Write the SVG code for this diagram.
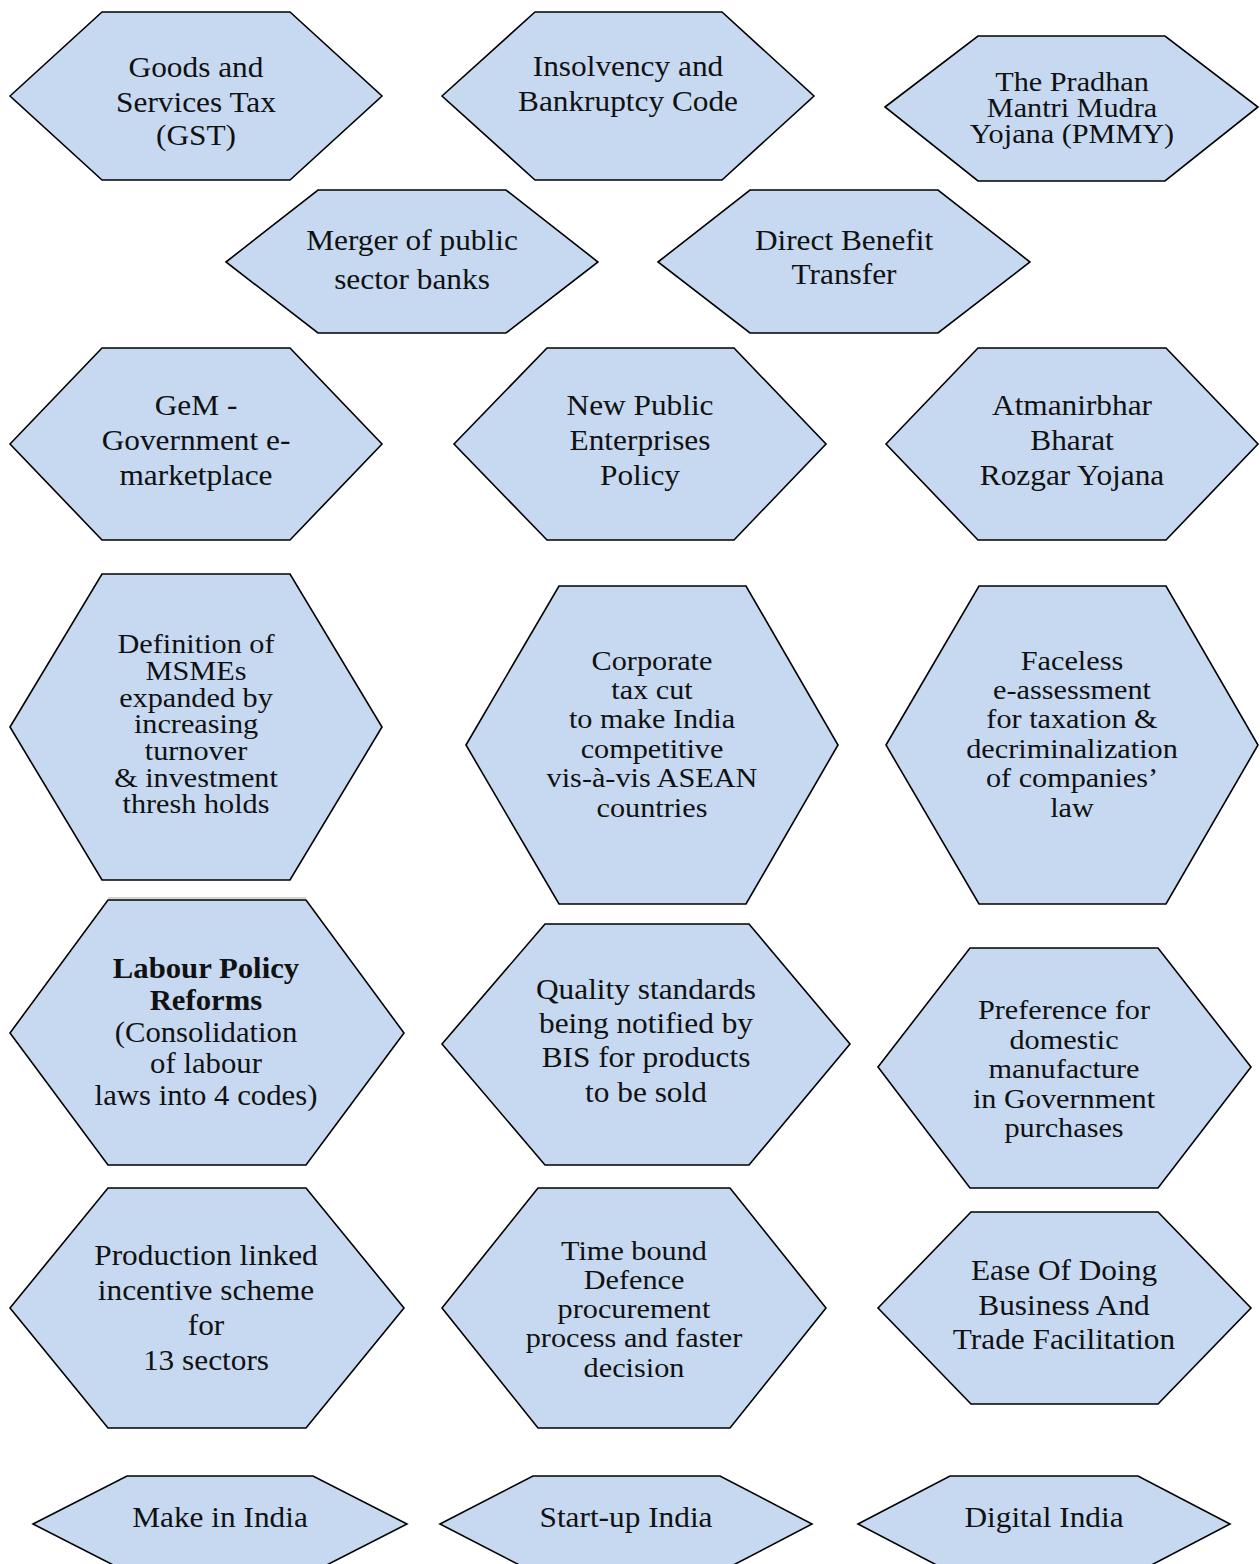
<svg xmlns="http://www.w3.org/2000/svg" width="1260" height="1564" viewBox="0 0 1260 1564">
<style>
.hex{fill:#C6D9F1;stroke:#000;stroke-width:1.6;stroke-linejoin:miter}
.t{font-family:"Liberation Serif","Times New Roman",serif;font-size:29px;fill:#111;text-anchor:middle}
.s{font-size:27.5px}
.b{font-weight:bold}
</style>
<rect width="1260" height="1564" fill="#fff"/>
<g id="connectors"/>
<g id="n1"><polygon class="hex" points="10,96 102,12 290,12 382,96 290,180 102,180"/>
<text class="t" transform="matrix(1.08 0 0 1 196 0)"><tspan x="0" y="77">Goods and</tspan><tspan x="0" y="112">Services Tax</tspan><tspan x="0" y="145">(GST)</tspan></text></g>
<g id="n2"><polygon class="hex" points="442,96 535,12 722,12 814,96 722,180 535,180"/>
<text class="t" transform="matrix(1.08 0 0 1 628 0)"><tspan x="0" y="76">Insolvency and</tspan><tspan x="0" y="111">Bankruptcy Code</tspan></text></g>
<g id="n3"><polygon class="hex" points="885,107 978,36 1165,36 1258,107 1165,181 978,181"/>
<text class="t s" transform="matrix(1.1 0 0 1 1072 0)"><tspan x="0" y="91">The Pradhan</tspan><tspan x="0" y="117">Mantri Mudra</tspan><tspan x="0" y="143">Yojana (PMMY)</tspan></text></g>
<g id="n4"><polygon class="hex" points="226,262 318,190 506,190 598,262 506,333 318,333"/>
<text class="t" transform="matrix(1.08 0 0 1 412 0)"><tspan x="0" y="250">Merger of public</tspan><tspan x="0" y="289">sector banks</tspan></text></g>
<g id="n5"><polygon class="hex" points="658,262 750,190 938,190 1030,262 938,333 750,333"/>
<text class="t" transform="matrix(1.08 0 0 1 844 0)"><tspan x="0" y="250">Direct Benefit</tspan><tspan x="0" y="284">Transfer</tspan></text></g>
<g id="n6"><polygon class="hex" points="10,444 102,348 290,348 382,444 290,540 102,540"/>
<text class="t" transform="matrix(1.08 0 0 1 196 0)"><tspan x="0" y="415">GeM -</tspan><tspan x="0" y="450">Government e-</tspan><tspan x="0" y="485">marketplace</tspan></text></g>
<g id="n7"><polygon class="hex" points="454,444 547,348 734,348 826,444 734,540 547,540"/>
<text class="t" transform="matrix(1.08 0 0 1 640 0)"><tspan x="0" y="415">New Public</tspan><tspan x="0" y="450">Enterprises</tspan><tspan x="0" y="485">Policy</tspan></text></g>
<g id="n8"><polygon class="hex" points="886,444 978,348 1166,348 1258,444 1166,540 978,540"/>
<text class="t" transform="matrix(1.08 0 0 1 1072 0)"><tspan x="0" y="415">Atmanirbhar</tspan><tspan x="0" y="450">Bharat</tspan><tspan x="0" y="485">Rozgar Yojana</tspan></text></g>
<g id="n9"><polygon class="hex" points="10,727 102,574 290,574 382,727 290,880 102,880"/>
<text class="t s" transform="matrix(1.1 0 0 1 196 0)"><tspan x="0" y="653">Definition of</tspan><tspan x="0" y="680">MSMEs</tspan><tspan x="0" y="707">expanded by</tspan><tspan x="0" y="733">increasing</tspan><tspan x="0" y="760">turnover</tspan><tspan x="0" y="787">&amp; investment</tspan><tspan x="0" y="813">thresh holds</tspan></text></g>
<line x1="108" y1="898" x2="306" y2="898" stroke="#A8A8A8" stroke-width="1"/>
<g id="n10"><polygon class="hex" points="466,745 559,586 746,586 838,745 746,904 559,904"/>
<text class="t s" transform="matrix(1.1 0 0 1 652 0)"><tspan x="0" y="670">Corporate</tspan><tspan x="0" y="699">tax cut</tspan><tspan x="0" y="728">to make India</tspan><tspan x="0" y="758">competitive</tspan><tspan x="0" y="787">vis-à-vis ASEAN</tspan><tspan x="0" y="817">countries</tspan></text></g>
<g id="n11"><polygon class="hex" points="886,745 979,586 1166,586 1258,745 1166,904 979,904"/>
<text class="t s" transform="matrix(1.1 0 0 1 1072 0)"><tspan x="0" y="670">Faceless</tspan><tspan x="0" y="699">e-assessment</tspan><tspan x="0" y="728">for taxation &amp;</tspan><tspan x="0" y="758">decriminalization</tspan><tspan x="0" y="787">of companies’</tspan><tspan x="0" y="817">law</tspan></text></g>
<g id="n12"><polygon class="hex" points="10,1033 108,900 306,900 404,1033 306,1165 108,1165"/>
<text class="t" transform="matrix(1.06 0 0 1 206 0)"><tspan class="b" x="0" y="978">Labour Policy</tspan><tspan class="b" x="0" y="1010">Reforms</tspan><tspan x="0" y="1042">(Consolidation</tspan><tspan x="0" y="1073">of labour</tspan><tspan x="0" y="1105">laws into 4 codes)</tspan></text></g>
<g id="n13"><polygon class="hex" points="442,1044 545,924 749,924 850,1044 749,1165 545,1165"/>
<text class="t" transform="matrix(1.08 0 0 1 646 0)"><tspan x="0" y="999">Quality standards</tspan><tspan x="0" y="1033">being notified by</tspan><tspan x="0" y="1067">BIS for products</tspan><tspan x="0" y="1102">to be sold</tspan></text></g>
<g id="n14"><polygon class="hex" points="878,1067 970,948 1158,948 1251,1067 1158,1188 970,1188"/>
<text class="t s" transform="matrix(1.1 0 0 1 1064 0)"><tspan x="0" y="1019">Preference for</tspan><tspan x="0" y="1049">domestic</tspan><tspan x="0" y="1078">manufacture</tspan><tspan x="0" y="1108">in Government</tspan><tspan x="0" y="1137">purchases</tspan></text></g>
<g id="n15"><polygon class="hex" points="10,1308 108,1188 306,1188 404,1308 306,1428 108,1428"/>
<text class="t" transform="matrix(1.08 0 0 1 206 0)"><tspan x="0" y="1265">Production linked</tspan><tspan x="0" y="1300">incentive scheme</tspan><tspan x="0" y="1335">for</tspan><tspan x="0" y="1370">13 sectors</tspan></text></g>
<g id="n16"><polygon class="hex" points="442,1308 538,1188 730,1188 826,1308 730,1428 538,1428"/>
<text class="t s" transform="matrix(1.1 0 0 1 634 0)"><tspan x="0" y="1260">Time bound</tspan><tspan x="0" y="1289">Defence</tspan><tspan x="0" y="1318">procurement</tspan><tspan x="0" y="1347">process and faster</tspan><tspan x="0" y="1377">decision</tspan></text></g>
<g id="n17"><polygon class="hex" points="878,1308 971,1212 1158,1212 1251,1308 1158,1404 971,1404"/>
<text class="t" transform="matrix(1.08 0 0 1 1064 0)"><tspan x="0" y="1280">Ease Of Doing</tspan><tspan x="0" y="1315">Business And</tspan><tspan x="0" y="1349">Trade Facilitation</tspan></text></g>
<g id="n18"><polygon class="hex" points="33,1524 127,1476 313,1476 407,1524 313,1572 127,1572"/>
<text class="t" transform="matrix(1.08 0 0 1 220 0)"><tspan x="0" y="1527">Make in India</tspan></text></g>
<g id="n19"><polygon class="hex" points="440,1524 533,1476 720,1476 812,1524 720,1572 533,1572"/>
<text class="t" transform="matrix(1.08 0 0 1 626 0)"><tspan x="0" y="1527">Start-up India</tspan></text></g>
<g id="n20"><polygon class="hex" points="858,1524 950,1476 1138,1476 1230,1524 1138,1572 950,1572"/>
<text class="t" transform="matrix(1.08 0 0 1 1044 0)"><tspan x="0" y="1527">Digital India</tspan></text></g>
</svg>
